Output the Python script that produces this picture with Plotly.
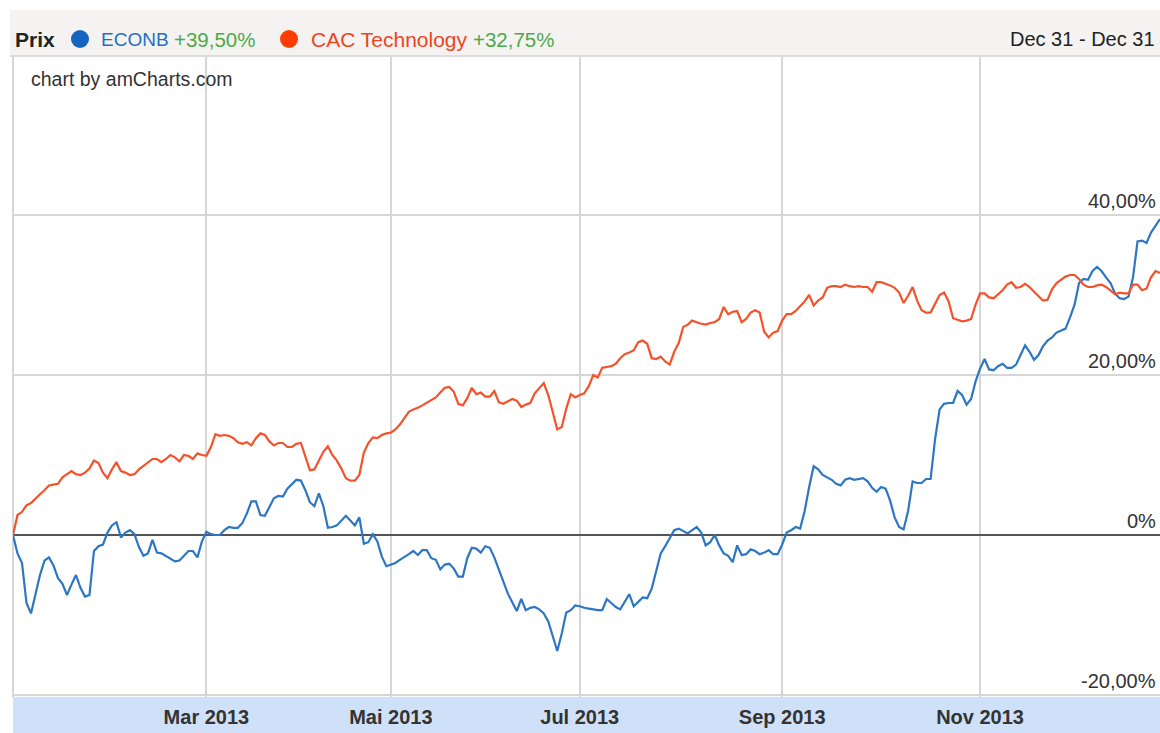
import pandas as pd
import plotly.graph_objects as go

# ---------------- data ----------------
holidays = ["2013-01-01", "2013-03-29", "2013-04-01", "2013-05-01", "2013-12-25", "2013-12-26"]
dates = [d for d in pd.bdate_range("2012-12-31", "2013-12-31").strftime("%Y-%m-%d") if d not in holidays]

tick_dates = ["2013-03-01", "2013-05-02", "2013-07-01", "2013-09-02", "2013-11-01"]
tick_labels = ["Mar 2013", "Mai 2013", "Jul 2013", "Sep 2013", "Nov 2013"]

y_ticks = [-20, 0, 20, 40]
y_tick_labels = ["-20,00%", "0%", "20,00%", "40,00%"]

econb = [
    0, -2.3, -3.5, -8.5, -9.8, -7.3, -5, -3.2, -2.8, -3.8,
    -5.4, -6.1, -7.5, -6.2, -5, -6.6, -7.7, -7.5, -2, -1.4,
    -1.2, 0.3, 1.2, 1.6, -0.3, 0.3, 0.6, 0.1, -1.5, -2.6,
    -2.3, -0.6, -2.2, -2.3, -2.6, -2.9, -3.3, -3.2, -2.6, -2,
    -2, -2.8, -0.8, 0.4, 0.1, 0, 0, 0.6, 1, 0.9,
    0.9, 1.5, 2.7, 4.2, 4.2, 2.5, 2.4, 3.5, 4.6, 4.9,
    4.8, 5.8, 6.3, 6.9, 6.8, 5.6, 4.1, 3.6, 5.2, 3.6,
    0.9, 1, 1.2, 1.8, 2.4, 1.8, 1.2, 2.2, -1.1, -0.9,
    0.1, -0.8, -2.7, -3.9, -3.7, -3.5, -3.1, -2.8, -2.4, -2,
    -2.5, -1.9, -1.9, -2.9, -3.1, -4.3, -3.7, -3.6, -4.2, -5.2,
    -5.2, -2.9, -1.6, -1.7, -2.2, -1.4, -1.6, -2.8, -4.3, -5.8,
    -7.3, -8.4, -9.5, -8, -9.4, -9.1, -9, -9.3, -9.8, -10.8,
    -12.7, -14.5, -12.3, -9.7, -9.4, -8.8, -8.9, -9.1, -9.2, -9.3,
    -9.4, -9.4, -8, -8.5, -9, -9.3, -8.3, -7.4, -8.9, -8.4,
    -7.8, -7.9, -6.7, -4.5, -2.3, -1.4, -0.4, 0.6, 0.8, 0.5,
    0.2, 0.6, 1, 0.3, -1.3, -0.9, 0, -1.3, -2.3, -2.6,
    -3.4, -1.3, -2.5, -2.4, -1.8, -2, -2.4, -2.2, -1.9, -2.4,
    -2.4, -1.2, 0.3, 0.6, 1, 0.8, 3, 6, 8.6, 8.2,
    7.5, 7.2, 6.9, 6.4, 6.2, 6.9, 7.1, 6.9, 7, 7.1,
    6.7, 5.9, 5.4, 6, 5.8, 4.3, 2.2, 1, 0.7, 3,
    6.7, 6.5, 6.5, 7, 7, 12, 15.7, 16.4, 16.5, 16.5,
    18, 17.5, 16.3, 17, 19.2, 20.8, 22, 20.7, 20.6, 21.1,
    21.4, 20.9, 20.9, 21.3, 22.5, 23.7, 22.9, 21.9, 22.5, 23.6,
    24.3, 24.7, 25.3, 25.6, 25.8, 27.2, 28.8, 31.5, 32, 31.9,
    33, 33.5, 33, 32.2, 31.5, 30.2, 29.6, 29.5, 29.8, 32.2,
    36.7, 36.8, 36.5, 37.8, 38.7, 39.5,
]

cac_tech = [
    0, 2.5, 2.9, 3.7, 4, 4.6, 5.1, 5.6, 6.2, 6.3,
    6.4, 7.2, 7.6, 8, 7.6, 7.5, 7.8, 8.3, 9.3, 9,
    7.8, 7.1, 8.2, 9.1, 8, 7.8, 7.5, 7.6, 8.2, 8.6,
    9, 9.5, 9.5, 9.1, 9.5, 10, 9.7, 9.2, 10, 9.9,
    9.5, 10.2, 10, 9.9, 11, 12.6, 12.4, 12.5, 12.4, 12.1,
    11.6, 11.4, 11.6, 11.2, 12.1, 12.7, 12.5, 11.7, 11.2, 11.5,
    11.5, 11, 11, 11.4, 11.5, 9.8, 8.1, 8.2, 9.3, 10.4,
    11.1, 10, 9.3, 8.3, 7.1, 6.8, 6.8, 7.5, 10.3, 11.5,
    12.2, 12.1, 12.5, 12.7, 12.8, 13.2, 13.8, 14.6, 15.4, 15.7,
    15.9, 16.2, 16.5, 16.8, 17.2, 17.8, 18.4, 18.5, 17.9, 16.4,
    16.2, 17.1, 18.4, 17.6, 17.8, 17.3, 17.3, 18, 16.6, 16.4,
    16.7, 17, 16.8, 16, 16.3, 16.5, 17.7, 18.3, 19, 17.5,
    15.4, 13.2, 13.5, 15.8, 17.6, 17.2, 17.5, 17.7, 18.6, 20,
    19.7, 20.9, 21, 21.1, 21.4, 22.1, 22.6, 22.8, 23.1, 24.1,
    24.3, 23.9, 22.1, 22, 22.3, 21.7, 21.3, 22.9, 24, 26,
    26.3, 26.8, 26.6, 26.4, 26.3, 26.5, 26.6, 27, 28.5, 27.6,
    27.9, 28, 26.6, 27, 27.8, 28.1, 27.8, 25.4, 24.7, 25.3,
    25.5, 26.8, 27.6, 27.6, 28, 28.6, 29.2, 30, 28.7, 29.3,
    29.7, 30.9, 31.1, 31.1, 31, 31.3, 31.1, 31, 31.1, 31,
    31, 30.4, 31.6, 31.6, 31.4, 31.2, 30.9, 30.3, 29, 29.9,
    31, 29.3, 28.1, 27.8, 27.8, 28.9, 30, 30.3, 29.2, 27.1,
    26.9, 26.7, 26.8, 27, 28.8, 30.2, 30.2, 29.7, 29.6, 30.1,
    30.6, 31.3, 31.6, 30.9, 31, 31.4, 31, 30.4, 29.9, 29.3,
    29.4, 30.7, 31.5, 31.9, 32.3, 32.5, 32.5, 32, 31.3, 31,
    31, 31.2, 31.3, 31, 30.5, 30.1, 30.3, 30.2, 30.2, 31.3,
    31.3, 30.6, 30.8, 32.2, 33, 32.75,
]

series_names = ["ECONB", "CAC Technology"]
series_changes = ["+39,50%", "+32,75%"]

# ---------------- styling / layout helpers ----------------
W, H = 1160, 733
L, R, T, B = 13, 0, 57, 36
PW, PH = W - L - R, H - T - B
FONT = "Arial, 'Liberation Sans', sans-serif"


def px(p):
    return (p - L) / PW


def py(p):
    return (H - B - p) / PH


BLUE_LINE = "#2c76c3"
RED_LINE = "#f4522b"

fig = go.Figure()
fig.add_trace(go.Scatter(x=dates, y=econb, mode="lines", name=series_names[0],
                         line=dict(color=BLUE_LINE, width=2.2), hoverinfo="skip"))
fig.add_trace(go.Scatter(x=dates, y=cac_tech, mode="lines", name=series_names[1],
                         line=dict(color=RED_LINE, width=2.2), hoverinfo="skip"))

shapes = [
    # header bar
    dict(type="rect", xref="paper", yref="paper", x0=px(10), x1=px(W), y0=py(56), y1=py(10),
         fillcolor="#f4f3f1", line=dict(width=0), layer="above"),
    dict(type="line", xref="paper", yref="paper", x0=px(10), x1=px(W), y0=py(56), y1=py(56),
         line=dict(color="#dcdcdc", width=2), layer="above"),
    # x-axis band
    dict(type="rect", xref="paper", yref="paper", x0=0, x1=1, y0=py(H), y1=py(697),
         fillcolor="#cfe1f8", line=dict(width=0), layer="below"),
    # left border
    dict(type="line", xref="paper", yref="paper", x0=0, x1=0, y0=0, y1=1,
         line=dict(color="#d6d6d6", width=2), layer="below"),
    # legend dots
    dict(type="circle", xref="paper", yref="paper", x0=px(71), x1=px(89), y0=py(48), y1=py(30),
         fillcolor="#1565c0", line=dict(width=0), layer="above"),
    dict(type="circle", xref="paper", yref="paper", x0=px(280), x1=px(298), y0=py(48), y1=py(30),
         fillcolor="#ff3d00", line=dict(width=0), layer="above"),
]

hy = py(39)
annotations = [
    dict(text="<b>Prix</b>", x=px(13), y=hy, xanchor="left", yanchor="middle",
         font=dict(size=21, color="#222222")),
    dict(text=series_names[0], x=px(99), y=hy, xanchor="left", yanchor="middle",
         font=dict(size=19, color="#1f6fc5")),
    dict(text=series_changes[0], x=px(172), y=hy, xanchor="left", yanchor="middle",
         font=dict(size=20.5, color="#4fa84a")),
    dict(text=series_names[1], x=px(309), y=hy, xanchor="left", yanchor="middle",
         font=dict(size=21, color="#f0441c")),
    dict(text=series_changes[1], x=px(471), y=hy, xanchor="left", yanchor="middle",
         font=dict(size=20.5, color="#4fa84a")),
    dict(text="Dec 31 - Dec 31", x=px(1157), y=hy, xanchor="right", yanchor="middle",
         font=dict(size=20, color="#222222")),
    dict(text="chart by amCharts.com", x=px(29), y=py(79), xanchor="left", yanchor="middle",
         font=dict(size=19.5, color="#333333")),
]
for v, lab in zip(y_ticks, y_tick_labels):
    annotations.append(dict(text=lab, x=1, xref="paper", xshift=-2, y=v, yref="y",
                            xanchor="right", yanchor="bottom", yshift=1,
                            font=dict(size=20, color="#333333")))
for a in annotations:
    a.setdefault("xref", "paper")
    a.setdefault("yref", "paper")
    a["showarrow"] = False

fig.update_layout(
    width=W, height=H,
    margin=dict(l=L, r=R, t=T, b=B, pad=0),
    paper_bgcolor="white", plot_bgcolor="white",
    showlegend=False,
    font=dict(family=FONT),
    shapes=shapes,
    annotations=annotations,
    xaxis=dict(
        type="date",
        range=[dates[0], dates[-1]],
        rangebreaks=[dict(bounds=["sat", "mon"]), dict(values=holidays)],
        tickvals=tick_dates, ticktext=tick_labels,
        showgrid=True, gridcolor="#d6d6d6", gridwidth=2,
        showline=False, zeroline=False, ticks="",
        tickfont=dict(size=20, color="#333333", weight="bold"),
        ticklabelstandoff=6,
        fixedrange=True,
    ),
    yaxis=dict(
        range=[-20.25, 59.75],
        tickvals=y_ticks, showticklabels=False,
        showgrid=True, gridcolor="#d6d6d6", gridwidth=2,
        zeroline=True, zerolinecolor="#555555", zerolinewidth=2,
        showline=False, ticks="",
        fixedrange=True,
    ),
)

fig.write_html(
    "out.html",
    config={"displayModeBar": False},
    post_script="document.body.style.margin='0';document.body.style.overflow='hidden';",
)
